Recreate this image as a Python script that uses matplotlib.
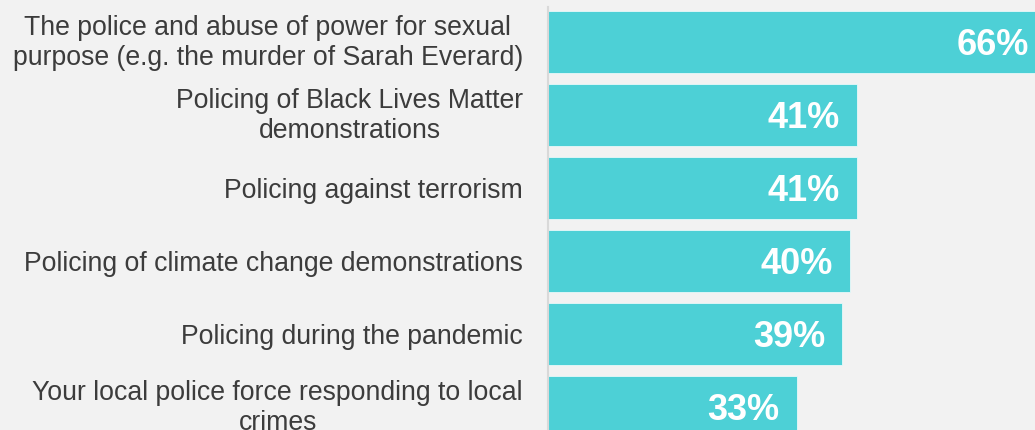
import matplotlib.pyplot as plt
from matplotlib.transforms import ScaledTranslation

plt.rcParams['font.family'] = ['Liberation Sans', 'DejaVu Sans']

# Survey items and share of respondents
categories = [
    "The police and abuse of power for sexual\npurpose (e.g. the murder of Sarah Everard)",
    "Policing of Black Lives Matter\ndemonstrations",
    "Policing against terrorism",
    "Policing of climate change demonstrations",
    "Policing during the pandemic",
    "Your local police force responding to local\ncrimes",
]
values = [66, 41, 41, 40, 39, 33]

bg = '#f2f2f2'
bar_color = '#4dd0d6'
text_color = '#3c3c3c'

fig = plt.figure(figsize=(10.35, 4.3), dpi=100, facecolor=bg)
ax = fig.add_axes([548 / 1035, 0, 1 - 548 / 1035, 423 / 430], facecolor=bg)

pos = list(range(len(values)))
ax.barh(pos, values, height=0.85, color=bar_color, edgecolor='#e8f8f9', linewidth=0.6)

ax.set_xlim(0, 64.6)
ax.set_ylim(5.315, -0.48)

# value labels sit just inside the bar end
for y, v in zip(pos, values):
    ax.annotate(f"{v}%", xy=(v, y), xytext=(-17, -3), textcoords='offset pixels',
                ha='right', va='center', color='white', fontsize=26,
                fontweight='bold', annotation_clip=False, clip_on=False)

ax.set_yticks(pos)
ax.set_yticklabels(categories, fontsize=19.2, color=text_color,
                   multialignment='center', linespacing=1.2)
ax.tick_params(axis='y', length=0, pad=18)
ax.set_xticks([])

# two-line labels sit a touch higher
lift = ScaledTranslation(0, 4 / 100, fig.dpi_scale_trans)
for lab in ax.get_yticklabels():
    if '\n' in lab.get_text():
        lab.set_transform(lab.get_transform() + lift)

for s in ['top', 'right', 'bottom']:
    ax.spines[s].set_visible(False)
ax.spines['left'].set_color('#d9d9d9')
ax.spines['left'].set_linewidth(1.5)

fig.savefig('out.png', dpi=100, facecolor=bg)
